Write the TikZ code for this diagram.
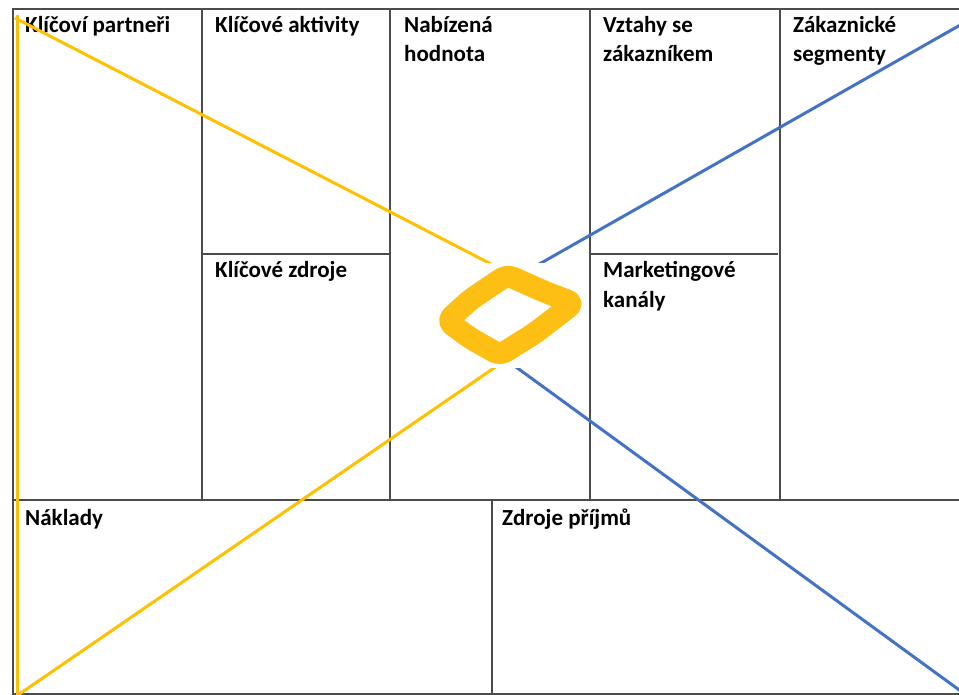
\documentclass[tikz,border=0pt]{standalone}
\usepackage{fontspec}
\setmainfont{Carlito}
\definecolor{gold}{HTML}{FFC000}
\definecolor{marker}{HTML}{FDBF14}
\definecolor{steel}{HTML}{4472C4}
\tikzset{fr/.style = {draw=black!70, line width=1.4pt},
    t/.style  = {anchor=base west, inner sep=0pt, font=\fontsize{23}{29}\selectfont\bfseries, align=left},
    yl/.style = {draw=gold, line width=3pt},
    bl/.style = {draw=steel, line width=3pt},
    mk/.style = {draw=marker, line width=22pt, line join=round, rounded corners=7pt}}

\begin{document}
\begin{tikzpicture}[x=1pt, y=-1pt]
        \useasboundingbox (0,0) rectangle (959,695);
        \clip (0,0) rectangle (959,695);
        \fill[white] (0,0) rectangle (959,695);

        % frame and cells
        \draw[fr] (13,9) rectangle (975,694);
        \foreach \x in {202, 390, 590, 780} \draw[fr] (\x,9) -- (\x,500);
        \foreach \x in {202, 590} \draw[fr] (\x,254) -- (\x+188,254);
        \draw[fr] (13,500) -- (975,500);
        \draw[fr] (492,500) -- (492,694);

        % titles (two-line ones sit on the baseline of their last line)
        \node[t] (kp) at (25,33)  {Klíčoví partneři};
        \node[t] (ka) at (215,33) {Klíčové aktivity};
        \node[t] (nh) at (404,62) {Nabízená\\hodnota};
        \node[t] (vz) at (603,62) {Vztahy se\\zákazníkem};
        \node[t] (zs) at (793,62) {Zákaznické\\segmenty};
        \node[t] (kz) at (215,278) {Klíčové zdroje};
        \node[t] (mk) at (603,307) {Marketingové\\kanály};
        \node[t] (na) at (25,525)  {Náklady};
        \node[t] (zp) at (502,525) {Zdroje příjmů};

        % ends of the cross
        \coordinate (tl) at (15,18);
        \coordinate (ml) at (17,15);
        \coordinate (bml) at (17,695);
        \coordinate (bl) at (18,695);
        \coordinate (tr) at (962,24);
        \coordinate (br) at (962,692);
        \coordinate (cy) at (520,279);
        \coordinate (cb) at (520,275);
        \coordinate (dy) at (510,357);
        \coordinate (db) at (505,359);

        \draw[yl] (ml) -- (bml);
        \draw[yl] (tl) -- (cy);
        \draw[yl] (bl) -- (dy);
        \draw[bl] (tr) -- (cb);
        \draw[bl] (br) -- (db);

        % hand drawn marker in the middle
        \fill[white] (433,263) rectangle (587,368);
        \draw[mk] (447,321) -- (470,300) -- (507,275) -- (545,292) -- (574,303) -- (535,333) -- (500,355) -- (470,338) -- cycle;
    \end{tikzpicture}
\end{document}
